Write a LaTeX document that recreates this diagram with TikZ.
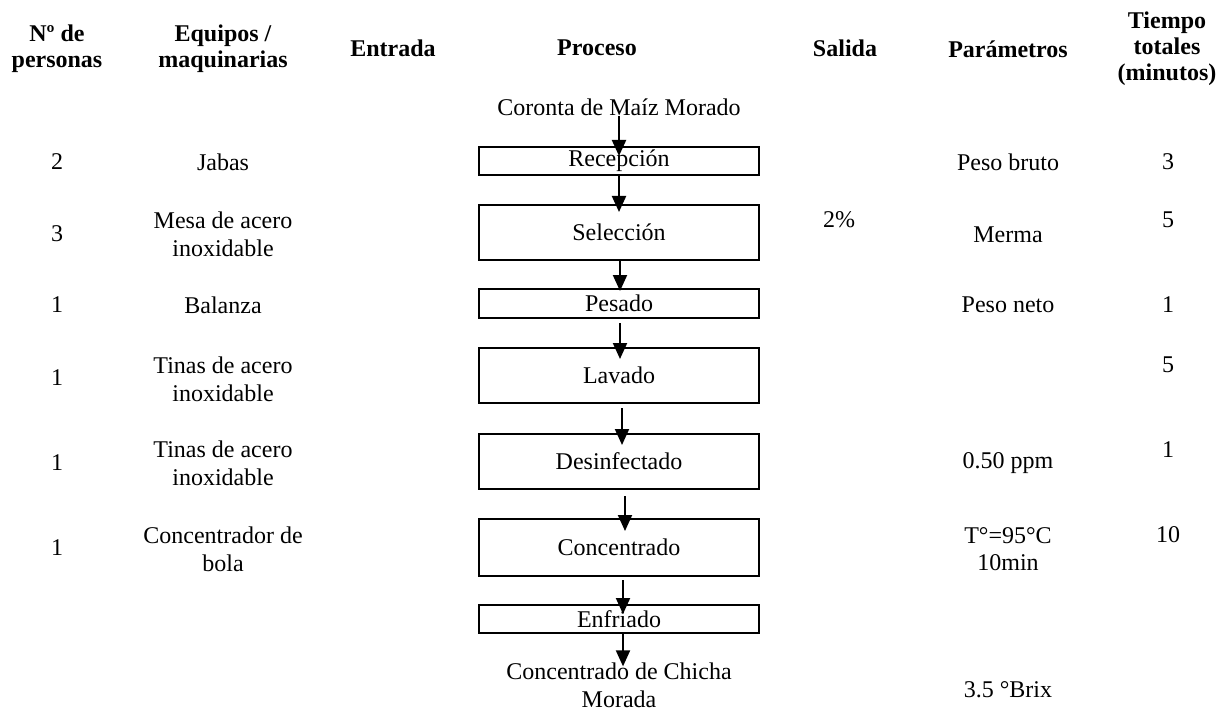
\documentclass[tikz,border=0pt]{standalone}
\usepackage{fontspec}
\setmainfont{Liberation Serif}
\usetikzlibrary{arrows.meta}
\begin{document}
\begin{tikzpicture}[x=0.5pt,y=-0.5pt,
  every node/.style={font=\fontsize{12}{13.8}\selectfont, inner sep=0pt, align=center},
  hdr/.style={font=\fontsize{12}{13}\selectfont\bfseries},
  proc/.style={draw, line width=1pt, minimum width=140pt},
  arr/.style={line width=1pt, -{Triangle[width=7pt,length=8pt]}}
]
\useasboundingbox (0,0) rectangle (1219,711);

% headers
\node[hdr] (h1) at (57,49) {Nº de\\personas};
\node[hdr] (h2) at (223,49) {Equipos /\\maquinarias};
\node[hdr] (h3) at (393,48) {Entrada};
\node[hdr] (h4) at (597,48) {Proceso};
\node[hdr] (h5) at (845,48) {Salida};
\node[hdr] (h6) at (1008,49) {Parámetros};
\node[hdr] (h7) at (1167,49) {Tiempo\\totales\\(minutos)};

% process column
\node (cor) at (619,107) {Coronta de Maíz Morado};
\node[proc, minimum height=14pt] (rec) at (619,161) {Recepción};
\node[proc, minimum height=27.5pt] (sel) at (619,232.5) {Selección};
\node[proc, minimum height=14.5pt] (pes) at (619,303.5) {Pesado};
\node[proc, minimum height=27.5pt] (lav) at (619,375.5) {Lavado};
\node[proc, minimum height=27.5pt] (des) at (619,461.5) {Desinfectado};
\node[proc, minimum height=28.5pt] (con) at (619,547.5) {Concentrado};
\node[proc, minimum height=14pt] (enf) at (619,619) {Enfriado};
\node (fin) at (619,685) {Concentrado de Chicha\\Morada};

\draw[arr] (cor.south) -- ([yshift=-5pt]rec.north);
\draw[arr] (rec.south) -- ([yshift=-4pt]sel.north);
\draw[arr] ([xshift=0.5pt]sel.south) -- ([xshift=0.5pt,yshift=-1.5pt]pes.north);
\draw[arr] ([xshift=0.5pt,yshift=-2pt]pes.south) -- ([xshift=0.5pt,yshift=-6pt]lav.north);
\draw[arr] ([xshift=1.5pt,yshift=-2pt]lav.south) -- ([xshift=1.5pt,yshift=-6pt]des.north);
\draw[arr] ([xshift=3pt,yshift=-3pt]des.south) -- ([xshift=3pt,yshift=-6.5pt]con.north);
\draw[arr] ([xshift=2pt,yshift=-1.5pt]con.south) -- ([xshift=2pt,yshift=-5pt]enf.north);
\draw[arr] ([xshift=2pt]enf.south) -- ([xshift=2pt,yshift=-2pt]fin.north);

% column 1: personas
\node (p1) at (57,162) {2};
\node (p2) at (57,234) {3};
\node (p3) at (57,305) {1};
\node (p4) at (57,378) {1};
\node (p5) at (57,463) {1};
\node (p6) at (57,548) {1};

% column 2: equipos
\node (e1) at (223,162) {Jabas};
\node (e2) at (223,234) {Mesa de acero\\inoxidable};
\node (e3) at (223,305) {Balanza};
\node (e4) at (223,379) {Tinas de acero\\inoxidable};
\node (e5) at (223,463) {Tinas de acero\\inoxidable};
\node (e6) at (223,549) {Concentrador de\\bola};

% salida
\node (s2) at (839,220) {2\%};

% parametros
\node (r1) at (1008,162) {Peso bruto};
\node (r2) at (1008,235) {Merma};
\node (r3) at (1008,305) {Peso neto};
\node (r5) at (1008,463) {0.50 ppm};
\node (r6) at (1008,549) {T°=95°C\\10min};
\node (r8) at (1008,690) {3.5 °Brix};

% tiempo
\node (t1) at (1168,162) {3};
\node (t2) at (1168,220) {5};
\node (t3) at (1168,305) {1};
\node (t4) at (1168,365) {5};
\node (t5) at (1168,450) {1};
\node (t6) at (1168,535) {10};
\end{tikzpicture}
\end{document}
